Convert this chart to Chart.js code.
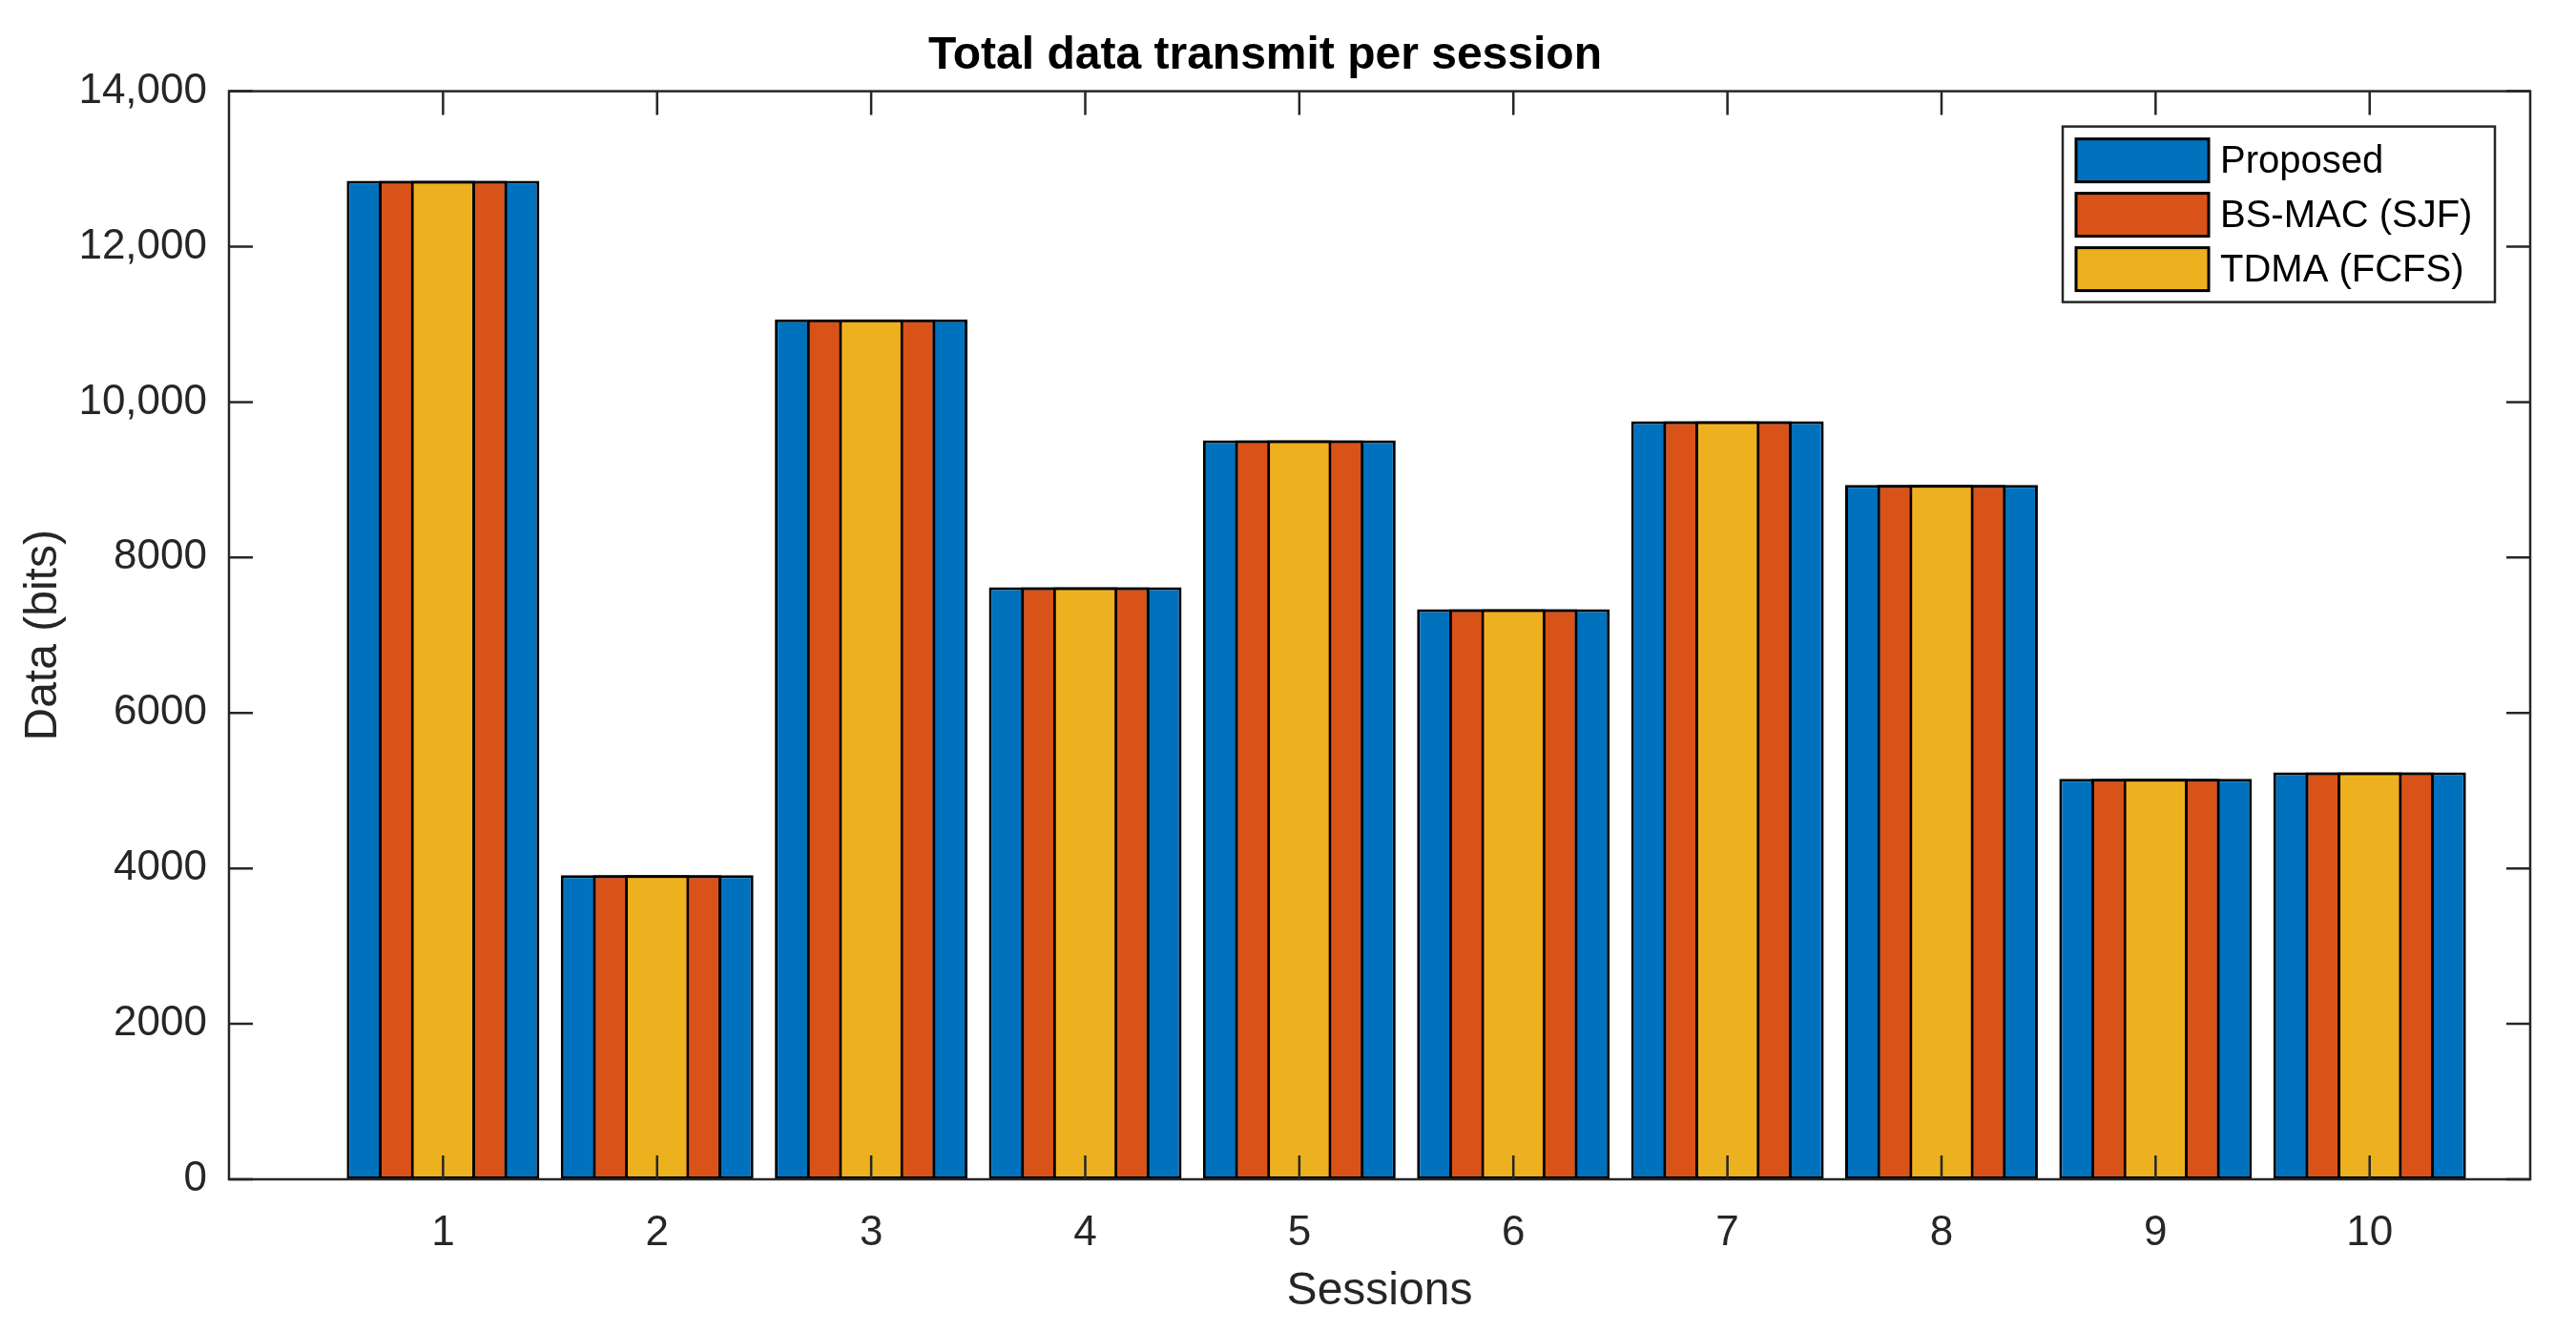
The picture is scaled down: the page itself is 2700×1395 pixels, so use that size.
<!DOCTYPE html>
<html lang="en">

<head>
    <meta charset="UTF-8" />
    <title>Total data transmit per session</title>
    <style>
        body {
            margin: 0;
            background: #fff;
        }
    </style>
</head>

<body>
    <canvas id="myChart" width="2700" height="1395"></canvas>

    <script src="https://cdn.jsdelivr.net/npm/chart.js"></script>

    <script>
        // data
        const sessions = [1, 2, 3, 4, 5, 6, 7, 8, 9, 10];
        const proposed = [12848, 3913, 11063, 7617, 9508, 7334, 9753, 8933, 5153, 5235];
        const bsMac = [12848, 3913, 11063, 7617, 9508, 7334, 9753, 8933, 5153, 5235];
        const tdma = [12848, 3913, 11063, 7617, 9508, 7334, 9753, 8933, 5153, 5235];
        const seriesNames = ["Proposed", "BS-MAC (SJF)", "TDMA (FCFS)"];
        const yTickValues = [0, 2000, 4000, 6000, 8000, 10000, 12000, 14000];
        const yTickLabels = ["0", "2000", "4000", "6000", "8000", "10,000", "12,000", "14,000"];

        const FONT = "'Liberation Sans', Arial, Helvetica, sans-serif";
        const AXIS = "#262626";

        function points(values) {
            return sessions.map((s, i) => ({ x: s, y: values[i] }));
        }

        // box round the axes, with inward ticks on all four sides
        const frame = {
            id: "frame",
            afterDatasetsDraw(chart) {
                const { ctx, chartArea: a, scales: { x, y } } = chart;
                const len = 25;
                ctx.save();
                ctx.strokeStyle = AXIS;
                ctx.lineWidth = 2.5;
                ctx.beginPath();
                sessions.forEach((v) => {
                    const px = x.getPixelForValue(v);
                    ctx.moveTo(px, a.bottom);
                    ctx.lineTo(px, a.bottom - len);
                    ctx.moveTo(px, a.top);
                    ctx.lineTo(px, a.top + len);
                });
                yTickValues.forEach((v) => {
                    const py = y.getPixelForValue(v);
                    ctx.moveTo(a.left, py);
                    ctx.lineTo(a.left + len, py);
                    ctx.moveTo(a.right, py);
                    ctx.lineTo(a.right - len, py);
                });
                ctx.stroke();
                ctx.strokeRect(a.left, a.top, a.right - a.left, a.bottom - a.top);
                ctx.restore();
            },
        };

        // matlab style legend, top right inside the axes
        const boxLegend = {
            id: "boxLegend",
            afterDraw(chart) {
                const { ctx, chartArea: a } = chart;
                const w = 453, h = 184;
                const left = a.right - 37 - w;
                const top = a.top + 37;
                ctx.save();
                ctx.fillStyle = "#fff";
                ctx.fillRect(left, top, w, h);
                ctx.strokeStyle = AXIS;
                ctx.lineWidth = 2.5;
                ctx.strokeRect(left, top, w, h);
                ctx.font = "40px " + FONT;
                ctx.textBaseline = "middle";
                ctx.textAlign = "left";
                chart.data.datasets.forEach((ds, i) => {
                    const sy = top + 13 + i * 57;
                    ctx.fillStyle = ds.backgroundColor;
                    ctx.fillRect(left + 14, sy, 139, 45);
                    ctx.strokeStyle = "#000";
                    ctx.lineWidth = 3;
                    ctx.strokeRect(left + 14, sy, 139, 45);
                    ctx.fillStyle = "#000";
                    ctx.fillText(ds.label, left + 165, sy + 24);
                });
                ctx.restore();
            },
        };

        const barStyle = {
            borderColor: "#000",
            borderWidth: 3,
            borderSkipped: false,
            categoryPercentage: 1,
            grouped: false,
        };

        const data = {
            datasets: [
                { ...barStyle, label: seriesNames[0], data: points(proposed), backgroundColor: "#0072BD", barPercentage: 0.9, order: 3 },
                { ...barStyle, label: seriesNames[1], data: points(bsMac), backgroundColor: "#D95319", barPercentage: 0.6, order: 2 },
                { ...barStyle, label: seriesNames[2], data: points(tdma), backgroundColor: "#EDB120", barPercentage: 0.3, order: 1 },
            ],
        };

        const config = {
            type: "bar",
            data,
            options: {
                responsive: false,
                animation: false,
                devicePixelRatio: 1,
                layout: { padding: { left: 0, right: 48, top: 0, bottom: 0 } },
                plugins: {
                    legend: { display: false },
                    tooltip: { enabled: false },
                    title: {
                        display: true,
                        text: "Total data transmit per session",
                        color: "#000",
                        font: { family: FONT, size: 48, weight: "bold" },
                        padding: { top: 30, bottom: 8 },
                    },
                },
                scales: {
                    x: {
                        type: "linear",
                        offset: false,
                        min: 0,
                        max: 10.75,
                        grid: { display: false, drawTicks: false },
                        border: { display: false },
                        afterBuildTicks: (axis) => {
                            axis.ticks = sessions.map((v) => ({ value: v }));
                        },
                        afterFit: (axis) => {
                            axis.height = 159;
                        },
                        ticks: {
                            color: AXIS,
                            padding: 30,
                            maxRotation: 0,
                            font: { family: FONT, size: 44 },
                            callback: (v) => String(v),
                        },
                        title: {
                            display: true,
                            text: "Sessions",
                            color: AXIS,
                            font: { family: FONT, size: 48 },
                            padding: { top: 0, bottom: 12 },
                        },
                    },
                    y: {
                        min: 0,
                        max: 14000,
                        grid: { display: false, drawTicks: false },
                        border: { display: false },
                        afterBuildTicks: (axis) => {
                            axis.ticks = yTickValues.map((v) => ({ value: v }));
                        },
                        afterFit: (axis) => {
                            axis.width = 240;
                        },
                        ticks: {
                            color: AXIS,
                            padding: 23,
                            font: { family: FONT, size: 44 },
                            callback: (v) => yTickLabels[yTickValues.indexOf(v)],
                        },
                        title: {
                            display: true,
                            text: "Data (bits)",
                            color: AXIS,
                            font: { family: FONT, size: 48 },
                            padding: { top: 17, bottom: 0 },
                        },
                    },
                },
            },
            plugins: [frame, boxLegend],
        };

        const myChart = new Chart(document.getElementById("myChart"), config);
    </script>
</body>

</html>
